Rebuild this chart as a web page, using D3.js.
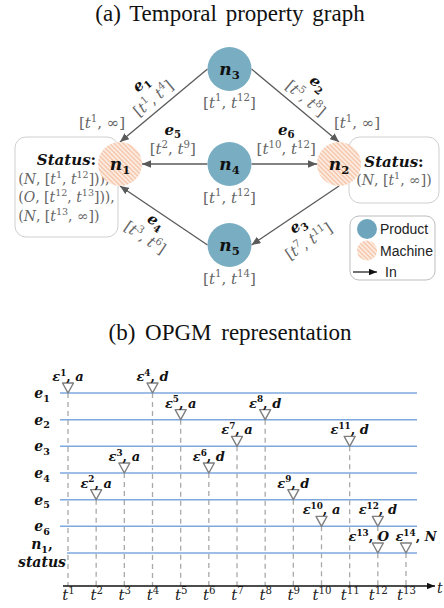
<!DOCTYPE html>
<html>
<head>
<meta charset="utf-8">
<script src="https://cdn.jsdelivr.net/npm/d3@7"></script>
<style>
  body { margin: 0; background: #fff; }
  svg { display: block; }
</style>
</head>
<body>
<svg id="chart" width="444" height="608"></svg>
<script>
// ---- (a) temporal property graph ----
const nodeIds = ["n1", "n2", "n3", "n4", "n5"];
const nodeKinds = ["Machine", "Machine", "Product", "Product", "Product"];
const nodeIntervals = ["[t^{1}, ∞]", "[t^{1}, ∞]", "[t^{1}, t^{12}]", "[t^{1}, t^{12}]", "[t^{1}, t^{14}]"];
const edgeIds = ["e1", "e2", "e3", "e4", "e5", "e6"];
const edgeSources = ["n3", "n3", "n2", "n5", "n4", "n4"];
const edgeTargets = ["n1", "n2", "n5", "n1", "n1", "n2"];
const edgeIntervals = ["[t^{1}, t^{4}]", "[t^{5}, t^{8}]", "[t^{7}, t^{11}]", "[t^{3}, t^{6}]", "[t^{2}, t^{9}]", "[t^{10}, t^{12}]"];
const statusN1 = ["(N, [t^{1}, t^{12}])),", "(O, [t^{12}, t^{13}])),", "(N, [t^{13}, ∞])"];
const statusN2 = ["(N, [t^{1}, ∞])"];
const legendItems = ["Product", "Machine", "In"];

// ---- (b) OPGM representation ----
const rows = ["e1", "e2", "e3", "e4", "e5", "e6", "n1"];
const rowLabels = ["e_{1}", "e_{2}", "e_{3}", "e_{4}", "e_{5}", "e_{6}", "n_{1},|status"];
const times = [1, 2, 3, 4, 5, 6, 7, 8, 9, 10, 11, 12, 13];
const eventNums = [1, 2, 3, 4, 5, 6, 7, 8, 9, 10, 11, 12, 13, 14];
const eventRows = ["e1", "e5", "e4", "e1", "e2", "e4", "e3", "e2", "e5", "e6", "e3", "e6", "n1", "n1"];
const eventTimes = [1, 2, 3, 4, 5, 6, 7, 8, 9, 10, 11, 12, 12, 13];
const eventOps = ["a", "a", "a", "d", "a", "d", "a", "d", "d", "a", "d", "d", "O", "N"];

const MATH = "'DejaVu Serif', serif";
const TITLE = "'Liberation Serif', 'Times New Roman', serif";
const GREY = "#666";

const svg = d3.select("#chart");
const defs = svg.append("defs");

// hatch for machine nodes
const hatch = defs.append("pattern")
  .attr("id", "hatch")
  .attr("width", 3.2).attr("height", 3.2)
  .attr("patternUnits", "userSpaceOnUse")
  .attr("patternTransform", "rotate(-45)");
hatch.append("rect").attr("width", 3.2).attr("height", 3.2).attr("fill", "#fdece2");
hatch.append("line").attr("x1", 0.8).attr("y1", 0).attr("x2", 0.8).attr("y2", 3.2)
  .attr("stroke", "#f4bb99").attr("stroke-width", 1.1);

function addMarker(id, color, len, half) {
  defs.append("marker")
    .attr("id", id)
    .attr("viewBox", `0 ${-half} ${len} ${half * 2}`)
    .attr("refX", len).attr("refY", 0)
    .attr("markerWidth", len).attr("markerHeight", half * 2)
    .attr("markerUnits", "userSpaceOnUse")
    .attr("orient", "auto")
    .append("path")
    .attr("d", `M0,${-half}L${len},0L0,${half}Z`)
    .attr("fill", color);
}
addMarker("arr", "#5a5a5a", 9, 3.8);
addMarker("axarr", "#111", 8, 3.2);

// tiny math markup: ^{..} sup, _{..} sub, letters italic, rest upright
function mathText(sel, str, size) {
  const re = /\^\{([^}]*)\}|_\{([^}]*)\}|([A-Za-zε]+)|([^A-Za-zε^_]+)/g;
  let shift = 0, m;
  while ((m = re.exec(str))) {
    const t = sel.append("tspan");
    let dy = 0;
    if (m[1] !== undefined) {
      t.text(m[1]).attr("font-size", size * 0.68).attr("font-style", "normal");
      dy = -size * 0.42;
    } else if (m[2] !== undefined) {
      t.text(m[2]).attr("font-size", size * 0.68).attr("font-style", "normal");
      dy = size * 0.25;
    } else if (m[3] !== undefined) {
      t.text(m[3]).attr("font-style", "italic");
    } else {
      t.text(m[4]).attr("font-style", "normal");
    }
    t.attr("dy", dy - shift);
    shift = dy;
  }
  return sel;
}

// titles
svg.append("text")
  .attr("x", 230).attr("y", 21)
  .attr("text-anchor", "middle")
  .attr("font-family", TITLE).attr("font-size", 23)
  .attr("word-spacing", 3)
  .attr("fill", "#111")
  .text("(a) Temporal property graph");

svg.append("text")
  .attr("x", 230).attr("y", 340)
  .attr("text-anchor", "middle")
  .attr("font-family", TITLE).attr("font-size", 23)
  .attr("word-spacing", 4)
  .attr("fill", "#111")
  .text("(b) OPGM representation");

// ================= graph =================
const R = 22;
const colX = d3.scalePoint().domain([0, 1, 2]).range([120, 339]);
const rowY = d3.scaleOrdinal().domain([0, 1, 2]).range([69, 164, 245]);
const grid = { n1: [0, 1], n2: [2, 1], n3: [1, 0], n4: [1, 1], n5: [1, 2] };

const nodes = nodeIds.map((id, i) => ({
  id, kind: nodeKinds[i], interval: nodeIntervals[i],
  col: grid[id][0], row: grid[id][1],
  x: colX(grid[id][0]), y: rowY(grid[id][1])
}));
const byId = Object.fromEntries(nodes.map(n => [n.id, n]));
const hub = byId.n4;

const edges = edgeIds.map((id, i) => ({
  id, s: byId[edgeSources[i]], t: byId[edgeTargets[i]], interval: edgeIntervals[i]
}));

function port(a, b) {
  if (a.row === b.row || a.row !== 1) return [a.x + Math.sign(b.x - a.x) * R, a.y];
  return [a.x, a.y + Math.sign(b.y - a.y) * R];
}

const g = svg.append("g");

// status boxes (behind nodes)
const statusSets = { n1: statusN1, n2: statusN2 };
const boxGeom = { n1: { x0: -105, x1: -2 }, n2: { x0: 10, x1: 100 } };
Object.entries(statusSets).forEach(([id, lines]) => {
  const n = byId[id];
  const bx0 = n.x + boxGeom[id].x0, bx1 = n.x + boxGeom[id].x1;
  const top = n.y - 27;
  const h = 32 + (lines.length + 1) * 17;
  g.append("rect")
    .attr("x", bx0).attr("y", top)
    .attr("width", bx1 - bx0).attr("height", h)
    .attr("rx", 11)
    .attr("fill", "#fff").attr("stroke", "#cfcfcf").attr("stroke-width", 1);
  const cx = (bx0 + bx1) / 2;
  const nLines = lines.length + 1;
  const first = top + h / 2 - (nLines - 1) * 18.5 / 2 + 6;
  const st = g.append("text")
    .attr("x", cx).attr("y", first)
    .attr("text-anchor", "middle")
    .attr("font-family", MATH).attr("font-size", 15).attr("font-weight", "bold")
    .attr("fill", "#111");
  mathText(st, "Status:", 15);
  const tl = lines.map((s, i) => mathText(
    g.append("text")
      .attr("y", first + (i + 1) * 18.5)
      .attr("font-family", MATH).attr("font-size", 14)
      .attr("fill", GREY), s, 14));
  const maxW = d3.max(tl, t => t.node().getComputedTextLength());
  tl.forEach(t => t.attr("x", cx - maxW / 2));
});

// edges
edges.forEach(e => {
  const p0 = port(e.s, e.t), p1 = port(e.t, e.s);
  g.append("line")
    .attr("x1", p0[0]).attr("y1", p0[1])
    .attr("x2", p1[0]).attr("y2", p1[1])
    .attr("stroke", "#5a5a5a").attr("stroke-width", 1.3)
    .attr("marker-end", "url(#arr)");

  const dx = p1[0] - p0[0], dy = p1[1] - p0[1], len = Math.hypot(dx, dy);
  let ang = Math.atan2(dy, dx) * 180 / Math.PI;
  if (ang > 90) ang -= 180;
  if (ang < -90) ang += 180;
  const mid = [p0[0] + dx * 0.53, p0[1] + dy * 0.53];
  let nx = -dy / len, ny = dx / len;
  const dot = (mid[0] - hub.x) * nx + (mid[1] - hub.y) * ny;
  if (dot < -0.5 || (Math.abs(dot) <= 0.5 && ny > 0)) { nx = -nx; ny = -ny; }
  const off = Math.abs(dy) < 1 ? 23.5 : 20.5;
  const lg = g.append("g")
    .attr("transform", `translate(${mid[0] + nx * off},${mid[1] + ny * off}) rotate(${ang})`);
  mathText(lg.append("text")
    .attr("y", -6).attr("text-anchor", "middle")
    .attr("font-family", MATH).attr("font-size", 15).attr("font-weight", "bold")
    .attr("fill", "#111"), e.id.replace(/(\d+)/, "_{$1}"), 15);
  mathText(lg.append("text")
    .attr("y", 13.5).attr("text-anchor", "middle")
    .attr("font-family", MATH).attr("font-size", 15)
    .attr("fill", GREY), e.interval, 15);
});

// nodes
const ng = g.selectAll(".node")
  .data(nodes)
  .join("g")
  .attr("class", "node")
  .attr("transform", d => `translate(${d.x},${d.y})`);

ng.append("circle")
  .attr("r", R)
  .attr("fill", d => d.kind === "Product" ? "#79adc2" : "url(#hatch)");

ng.each(function (d) {
  mathText(d3.select(this).append("text")
    .attr("y", 6).attr("text-anchor", "middle")
    .attr("font-family", MATH).attr("font-size", 17).attr("font-weight", "bold")
    .attr("fill", "#111"), d.id.replace(/(\d+)/, "_{$1}"), 17);
  const side = Math.sign(d.x - hub.x);
  const it = d3.select(this).append("text")
    .attr("font-family", MATH).attr("font-size", 15)
    .attr("text-anchor", "middle")
    .attr("fill", GREY);
  if (d.kind === "Product") it.attr("x", 0).attr("y", R + 16.5);
  else it.attr("x", side * 18).attr("y", -36);
  mathText(it, d.interval, 15);
});

// legend
const lgx = 350, lgy = 216;
const leg = svg.append("g").attr("transform", `translate(${lgx},${lgy})`);
leg.append("rect")
  .attr("width", 85).attr("height", 64).attr("rx", 9)
  .attr("fill", "#fff").attr("stroke", "#bdbdbd").attr("stroke-width", 1);
const legY = d3.scalePoint().domain(legendItems).range([13, 56]);
legendItems.forEach(name => {
  const y = legY(name);
  if (name === "In") {
    leg.append("line")
      .attr("x1", 3).attr("x2", 27).attr("y1", y).attr("y2", y)
      .attr("stroke", "#111").attr("stroke-width", 1.2)
      .attr("marker-end", "url(#axarr)");
  } else {
    leg.append("circle")
      .attr("cx", 17).attr("cy", y).attr("r", 10)
      .attr("fill", name === "Product" ? "#6fa5bc" : "url(#hatch)");
  }
  leg.append("text")
    .attr("x", name === "In" ? 35 : 30).attr("y", y + 5)
    .attr("font-family", "'Liberation Sans', Arial, sans-serif").attr("font-size", 14)
    .attr("fill", "#222")
    .text(name);
});

// ================= OPGM timeline =================
const x = d3.scaleLinear().domain([1, 13]).range([68, 406]);
const y = d3.scalePoint().domain(rows).range([393, 553]);
const axisY = 586;
const tg = svg.append("g");

const events = eventNums.map((n, i) => ({
  n, row: eventRows[i], time: eventTimes[i], op: eventOps[i]
}));

// dashed guides from topmost event down to the axis
times.forEach(t => {
  const top = d3.min(events.filter(e => e.time === t), e => y(e.row));
  tg.append("line")
    .attr("x1", x(t)).attr("x2", x(t))
    .attr("y1", top).attr("y2", axisY)
    .attr("stroke", "#a9a9a9").attr("stroke-width", 1.3)
    .attr("stroke-dasharray", "5,4");
});

// row lines
tg.selectAll(".row")
  .data(rows)
  .join("line")
  .attr("class", "row")
  .attr("x1", d => d === "n1" ? x(1) - 1 : x(1) - 8).attr("x2", x(13) + 11)
  .attr("y1", d => y(d)).attr("y2", d => y(d))
  .attr("stroke", "#7ea8dc").attr("stroke-width", 1.5);

// row labels
rows.forEach((r, i) => {
  const parts = rowLabels[i].split("|");
  parts.forEach((p, k) => {
    mathText(tg.append("text")
      .attr("x", 42).attr("y", y(r) + 5 - 9 * (parts.length - 1) + 18 * k)
      .attr("text-anchor", "middle")
      .attr("font-family", MATH).attr("font-size", 14).attr("font-weight", "bold")
      .attr("fill", "#111"), p, 14);
  });
});

// axis
const axis = d3.axisBottom(x).tickValues(times).tickSize(0).tickFormat("");
const ax = tg.append("g").attr("transform", `translate(0,${axisY})`).call(axis);
ax.select(".domain").remove();
ax.selectAll(".tick text").remove();
ax.selectAll(".tick").append("text")
  .attr("x", 0).attr("y", 14)
  .attr("font-family", MATH).attr("font-size", 15)
  .attr("fill", "#222")
  .each(function (d) { mathText(d3.select(this), "t^{" + d + "}", 15); });

tg.append("line")
  .attr("x1", x(1) - 5).attr("x2", x(13) + 29)
  .attr("y1", axisY).attr("y2", axisY)
  .attr("stroke", "#111").attr("stroke-width", 1.3)
  .attr("marker-end", "url(#axarr)");
mathText(tg.append("text")
  .attr("x", x(13) + 31).attr("y", axisY + 7)
  .attr("font-family", MATH).attr("font-size", 14)
  .attr("fill", "#222"), "t", 14);

// events: hollow down-triangles + labels
const eg = tg.selectAll(".ev")
  .data(events)
  .join("g")
  .attr("class", "ev")
  .attr("transform", d => `translate(${x(d.time)},${y(d.row)})`);

eg.append("path")
  .attr("d", "M-5.5,-10L5.5,-10L0,0Z")
  .attr("fill", "#fff").attr("stroke", "#7f7f7f").attr("stroke-width", 1.4)
  .attr("stroke-linejoin", "round");

eg.each(function (d) {
  // push apart labels of neighbouring events on the same row
  const left = events.find(e => e.row === d.row && e.time === d.time - 1);
  const right = events.find(e => e.row === d.row && e.time === d.time + 1);
  const shift = right ? -9 : left ? 10 : 0;
  mathText(d3.select(this).append("text")
    .attr("x", shift).attr("y", -12)
    .attr("text-anchor", "middle")
    .attr("font-family", MATH).attr("font-size", 13).attr("font-weight", "bold")
    .attr("fill", "#111"), `ε^{${d.n}}, ${d.op}`, 13);
});
</script>
</body>
</html>
